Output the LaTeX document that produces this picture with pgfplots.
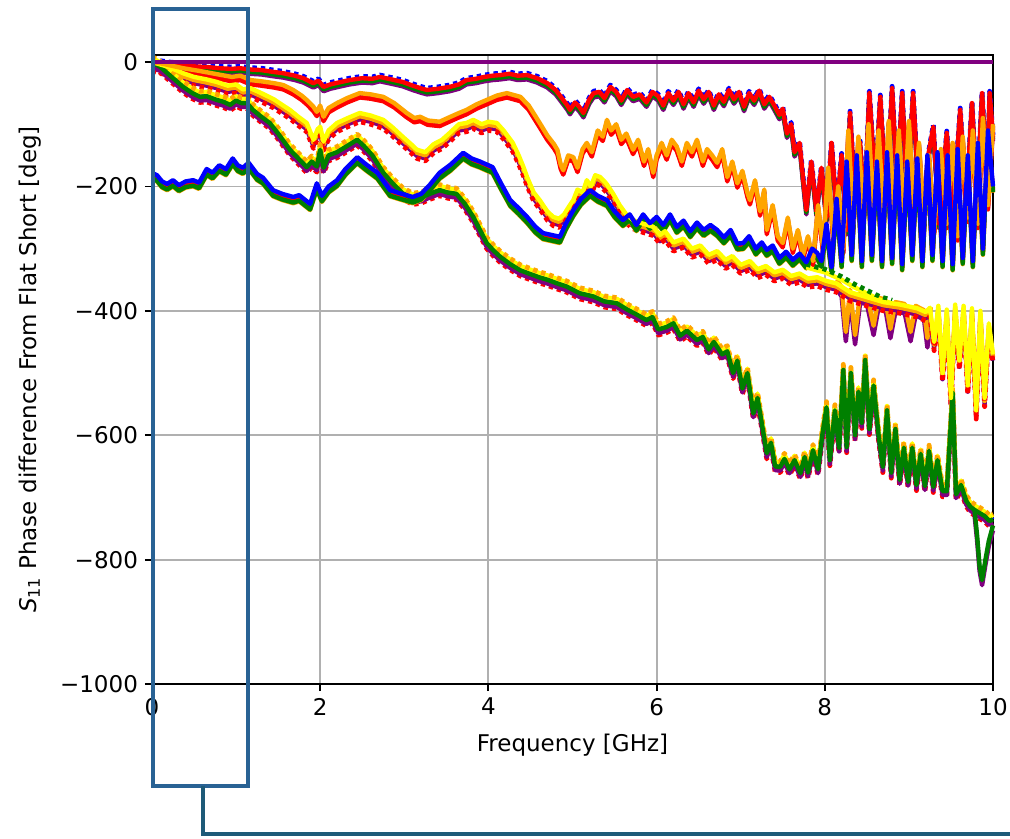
\documentclass[border=0pt]{standalone}
\usepackage{fontspec}
\setmainfont{DejaVu Sans}
\usepackage{pgfplots}
\usepackage{pgfplotstable}
\pgfplotsset{compat=1.18}
\definecolor{cR}{RGB}{255,0,0}
\definecolor{cB}{RGB}{0,0,255}
\definecolor{cP}{RGB}{128,0,128}
\definecolor{cO}{RGB}{255,165,0}
\definecolor{cY}{RGB}{255,255,0}
\definecolor{cG}{RGB}{0,128,0}
\definecolor{gridgray}{RGB}{176,176,176}
\definecolor{boxblue}{RGB}{41,98,148}
\definecolor{linkblue}{RGB}{30,90,120}

\pgfplotstableread{
x y
0 0
10 0
}\bundleA

\pgfplotstableread{
x y
0 0
0.1 -1
0.2 -3
0.37 -5
0.5 -7
0.65 -8
0.8 -10
0.95 -11
1.05 -10
1.17 -12
1.3 -13
1.45 -16
1.56 -18
1.7 -22
1.8 -26
1.92 -34
1.98 -30
2.04 -40
2.12 -36
2.25 -32
2.35 -29
2.5 -26
2.62 -27
2.71 -24
2.85 -28
2.98 -32
3.1 -38
3.19 -42
3.27 -45
3.4 -43
3.54 -40
3.65 -36
3.74 -29
3.85 -27
3.95 -24
4.05 -22
4.14 -21
4.25 -19
4.35 -22
4.46 -21
4.58 -26
4.70 -34
4.80 -45
4.89 -61
4.94 -70
4.97 -77
5.03 -65
5.08 -72
5.13 -82
5.2 -60
5.25 -50
5.32 -48
5.38 -58
5.45 -40
5.52 -48
5.58 -62
5.65 -45
5.72 -56
5.8 -52
5.88 -65
5.95 -48
6.02 -55
6.08 -70
6.14 -50
6.2 -62
6.26 -48
6.32 -68
6.38 -50
6.44 -65
6.5 -46
6.56 -60
6.62 -48
6.68 -70
6.74 -52
6.8 -64
6.86 -45
6.92 -60
6.98 -48
7.04 -72
7.1 -50
7.16 -62
7.22 -46
7.28 -68
7.34 -56
7.4 -70
7.46 -85
7.5 -75
7.55 -115
7.6 -100
7.64 -145
7.7 -130
7.74 -185
7.78 -238
7.84 -160
7.90 -240
7.96 -170
8.02 -250
8.08 -130
8.14 -240
8.20 -150
8.26 -270
8.30 -82
8.36 -220
8.42 -130
8.47 -240
8.53 -50
8.60 -200
8.66 -56
8.73 -230
8.80 -42
8.86 -200
8.92 -50
8.98 -220
9.05 -50
9.11 -200
9.17 -250
9.23 -150
9.29 -104
9.36 -260
9.45 -114
9.52 -250
9.61 -77
9.68 -230
9.75 -66
9.81 -220
9.87 -50
9.93 -200
9.96 -50
10 -120
}\bundleB

\pgfplotstableread{
x y
0 0
0.1 -2
0.2 -5
0.37 -10
0.55 -14
0.75 -19
0.95 -24
1.05 -22
1.17 -29
1.3 -31
1.45 -34
1.56 -37
1.68 -45
1.78 -54
1.84 -61
1.92 -72
1.96 -80
2.0 -70
2.04 -88
2.1 -74
2.2 -66
2.32 -58
2.47 -50
2.6 -52
2.75 -56
2.88 -66
3.03 -82
3.12 -90
3.19 -88
3.28 -94
3.42 -96
3.55 -88
3.65 -82
3.74 -77
3.86 -68
3.98 -61
4.1 -54
4.22 -50
4.3 -53
4.38 -56
4.48 -70
4.55 -85
4.61 -98
4.7 -118
4.78 -132
4.82 -141
4.86 -165
4.89 -174
4.95 -150
5.01 -153
5.06 -170
5.12 -140
5.17 -130
5.23 -145
5.3 -110
5.36 -120
5.41 -93
5.46 -110
5.52 -100
5.58 -125
5.64 -115
5.72 -141
5.78 -125
5.85 -160
5.9 -140
5.96 -178
6.0 -150
6.06 -130
6.12 -150
6.18 -125
6.24 -136
6.3 -160
6.36 -130
6.42 -145
6.48 -125
6.55 -160
6.6 -140
6.66 -150
6.72 -162
6.78 -140
6.84 -185
6.9 -160
6.96 -195
7.02 -175
7.08 -210
7.11 -222
7.17 -190
7.23 -240
7.28 -205
7.31 -270
7.38 -230
7.44 -280
7.5 -291
7.56 -250
7.62 -300
7.68 -270
7.74 -310
7.8 -280
7.86 -320
7.92 -230
7.98 -300
8.04 -170
8.1 -280
8.16 -200
8.22 -300
8.28 -110
8.34 -260
8.40 -120
8.46 -250
8.52 -100
8.58 -240
8.64 -110
8.70 -250
8.76 -95
8.82 -240
8.88 -110
8.94 -250
9.0 -95
9.06 -230
9.12 -130
9.18 -260
9.24 -150
9.30 -270
9.38 -140
9.45 -260
9.52 -130
9.58 -280
9.64 -120
9.70 -250
9.76 -110
9.82 -260
9.88 -90
9.94 -230
10 -100
}\bundleC

\pgfplotstableread{
x y
0 0
0.1 -4
0.2 -8
0.37 -18
0.5 -24
0.65 -28
0.77 -32
0.9 -38
1.0 -36
1.08 -44
1.17 -42
1.3 -50
1.45 -60
1.56 -70
1.64 -77
1.74 -88
1.84 -98
1.92 -125
1.97 -108
2.0 -104
2.04 -128
2.1 -110
2.2 -98
2.33 -90
2.47 -82
2.6 -86
2.75 -93
2.86 -105
2.98 -120
3.08 -132
3.15 -141
3.25 -145
3.35 -132
3.45 -125
3.54 -114
3.65 -100
3.74 -98
3.82 -93
3.92 -100
4.0 -96
4.1 -98
4.18 -110
4.29 -130
4.36 -150
4.42 -170
4.46 -185
4.54 -210
4.61 -222
4.7 -240
4.77 -249
4.84 -252
4.9 -245
4.96 -232
5.01 -222
5.06 -205
5.12 -210
5.17 -190
5.22 -200
5.27 -182
5.33 -185
5.4 -195
5.48 -211
5.56 -230
5.64 -245
5.72 -254
5.84 -260
5.96 -265
6.04 -278
6.1 -272
6.2 -290
6.32 -284
6.42 -300
6.52 -295
6.62 -310
6.72 -304
6.82 -318
6.9 -312
7.0 -326
7.11 -320
7.2 -333
7.3 -328
7.4 -338
7.5 -334
7.6 -344
7.7 -340
7.8 -348
7.91 -346
8.02 -352
8.14 -356
8.3 -370
8.5 -378
8.7 -386
8.9 -390
9.1 -396
9.2 -402
9.25 -395
9.30 -450
9.35 -392
9.40 -500
9.45 -398
9.50 -540
9.55 -390
9.60 -480
9.65 -392
9.70 -520
9.75 -396
9.80 -560
9.85 -400
9.90 -540
9.95 -420
10 -470
}\bundleD

\pgfplotstableread{
x y
8.14 -356
8.20 -368
8.25 -440
8.30 -372
8.36 -445
8.42 -378
8.50 -380
8.58 -430
8.64 -385
8.72 -388
8.78 -435
8.84 -392
8.95 -395
9.02 -440
9.08 -398
9.18 -405
9.22 -450
9.26 -400
}\bundleDdip

\pgfplotstableread{
x y
0 0
0.1 -8
0.2 -20
0.37 -40
0.48 -50
0.57 -56
0.65 -55
0.77 -61
0.85 -64
0.93 -69
1.0 -62
1.06 -66
1.13 -66
1.2 -77
1.3 -88
1.4 -98
1.5 -115
1.64 -141
1.74 -155
1.84 -169
1.9 -160
1.96 -168
2.0 -141
2.04 -170
2.1 -150
2.2 -145
2.32 -135
2.44 -125
2.52 -135
2.62 -150
2.75 -178
2.86 -195
2.98 -211
3.1 -220
3.2 -218
3.3 -212
3.42 -206
3.52 -210
3.62 -212
3.72 -228
3.82 -249
3.9 -270
3.98 -291
4.06 -303
4.14 -313
4.26 -325
4.38 -335
4.5 -341
4.6 -346
4.7 -350
4.82 -356
4.93 -361
5.09 -372
5.25 -377
5.38 -385
5.53 -388
5.65 -398
5.75 -405
5.88 -415
5.95 -410
6.02 -430
6.12 -426
6.2 -420
6.28 -440
6.36 -432
6.48 -447
6.55 -442
6.62 -462
6.68 -450
6.72 -458
6.78 -470
6.84 -465
6.91 -500
6.96 -480
7.02 -525
7.08 -500
7.15 -565
7.2 -540
7.25 -580
7.31 -629
7.36 -612
7.41 -650
7.47 -651
7.52 -638
7.58 -655
7.64 -640
7.71 -661
7.76 -635
7.80 -660
7.86 -624
7.92 -655
7.97 -600
8.02 -555
8.06 -640
8.12 -560
8.17 -620
8.22 -495
8.26 -619
8.31 -500
8.36 -600
8.40 -530
8.44 -580
8.48 -479
8.53 -590
8.58 -520
8.64 -600
8.69 -651
8.74 -560
8.79 -660
8.84 -590
8.89 -672
8.94 -620
8.99 -675
9.04 -620
9.09 -680
9.14 -630
9.19 -682
9.24 -625
9.29 -683
9.34 -640
9.40 -690
9.45 -690
9.52 -532
9.56 -695
9.62 -680
9.68 -705
9.73 -715
9.78 -720
9.84 -725
9.90 -730
9.96 -738
10 -735
}\bundleE

\pgfplotstableread{
x y
9.78 -720
9.81 -760
9.84 -810
9.87 -833
9.91 -800
9.95 -770
10 -745
}\bundleEdrop

\pgfplotstableread{
x y
0 -178
0.06 -182
0.12 -192
0.18 -196
0.25 -190
0.32 -198
0.4 -192
0.49 -190
0.56 -194
0.65 -172
0.72 -178
0.8 -166
0.88 -172
0.96 -155
1.02 -166
1.08 -170
1.15 -162
1.25 -180
1.32 -186
1.44 -206
1.55 -212
1.68 -217
1.75 -214
1.88 -228
1.96 -195
2.02 -215
2.1 -200
2.2 -190
2.3 -172
2.44 -153
2.55 -165
2.68 -178
2.83 -206
2.95 -211
3.1 -217
3.2 -212
3.3 -198
3.42 -178
3.55 -165
3.7 -146
3.8 -155
3.9 -160
4.05 -169
4.15 -195
4.26 -222
4.36 -235
4.46 -249
4.56 -265
4.65 -275
4.75 -278
4.85 -281
4.92 -260
5.01 -238
5.1 -220
5.21 -206
5.3 -215
5.41 -222
5.5 -240
5.6 -254
5.68 -245
5.76 -262
5.84 -245
5.92 -259
6.0 -249
6.08 -262
6.16 -245
6.24 -265
6.32 -255
6.4 -272
6.48 -258
6.56 -270
6.64 -262
6.72 -270
6.8 -282
6.88 -270
6.96 -292
7.03 -291
7.1 -280
7.18 -300
7.25 -290
7.31 -302
7.38 -295
7.46 -315
7.54 -305
7.62 -318
7.7 -308
7.78 -322
7.85 -300
7.91 -307
7.96 -320
8.02 -260
8.08 -330
8.14 -220
8.20 -320
8.26 -160
8.32 -310
8.38 -150
8.44 -320
8.50 -145
8.56 -310
8.62 -160
8.68 -320
8.74 -145
8.80 -315
8.86 -150
8.92 -325
8.98 -160
9.04 -310
9.10 -155
9.16 -320
9.22 -150
9.28 -310
9.34 -145
9.40 -320
9.46 -150
9.52 -325
9.58 -140
9.64 -315
9.70 -150
9.76 -320
9.82 -130
9.88 -300
9.94 -110
10 -200
}\bundleF

\pgfplotstableread{
x y
7.78 -330
7.91 -335
8.0 -338
8.1 -344
8.2 -350
8.35 -362
8.5 -372
8.65 -382
8.8 -388
}\bundleFsmooth

\begin{document}
\begin{tikzpicture}
\begin{axis}[
  scale only axis,
  width=420.5pt, height=314.5pt,
  xmin=0, xmax=10, ymin=-1000, ymax=11.25,
  xtick={0,2,4,6,8,10},
  xticklabels={0,2,4,6,8,10},
  ytick={-1000,-800,-600,-400,-200,0},
  yticklabels={−1000,−800,−600,−400,−200,0},
  xtick pos=lower, ytick pos=left,
  tick align=outside,
  major tick length=3.5pt,
  tick style={black, line width=0.9pt},
  grid=major,
  grid style={gridgray, line width=0.9pt},
  axis line style={black, line width=0.9pt},
  tick label style={font=\fontsize{11.5}{13.8}\selectfont},
  xlabel={Frequency [GHz]},
  ylabel={\textit{S}\textsubscript{11} Phase difference From Flat Short [deg]},
  every axis x label/.style={at={(axis description cs:0.5,-0.097)}, anchor=center, font=\fontsize{11.5}{13.8}\selectfont},
  every axis y label/.style={at={(axis description cs:-0.145,0.5)}, anchor=center, rotate=90, font=\fontsize{11.5}{13.8}\selectfont},
  clip=false,
  every axis plot/.append style={line width=2.2pt, no markers, line join=round},
]
% ---- under layers
\addplot[cP] table[x=x, y expr=\thisrow{y}-7] {\bundleB};
\addplot[cG] table[x=x, y expr=\thisrow{y}-4] {\bundleB};
\addplot[cB, dotted, line width=2.4pt] table[x=x, y expr=\thisrow{y}+3] {\bundleB};

\addplot[cP] table[x=x, y expr=\thisrow{y}-3] {\bundleC};
\addplot[cR] table[x=x, y expr=\thisrow{y}-7] {\bundleC};

\addplot[cP] table[x=x, y expr=\thisrow{y}-9] {\bundleDdip};
\addplot[cO] table[x=x, y expr=\thisrow{y}+6] {\bundleDdip};
\addplot[cP] table[x=x, y expr=\thisrow{y}-10] {\bundleD};
\addplot[cO] table[x=x, y expr=\thisrow{y}-5] {\bundleD};
\addplot[cR, dotted, line width=2.4pt] table[x=x, y expr=\thisrow{y}-14] {\bundleD};

\addplot[cR, dotted, line width=2.4pt] table[x=x, y expr=\thisrow{y}-9] {\bundleE};
\addplot[cP] table[x=x, y expr=\thisrow{y}-6] {\bundleE};
\addplot[cB] table[x=x, y expr=\thisrow{y}+4] {\bundleE};
\addplot[cY] table[x=x, y expr=\thisrow{y}+7] {\bundleE};
\addplot[cO, dotted, line width=2.4pt] table[x=x, y expr=\thisrow{y}+9] {\bundleE};
\addplot[cP] table[x=x, y expr=\thisrow{y}-8] {\bundleEdrop};

\addplot[cO] table[x=x, y expr=\thisrow{y}-10] {\bundleF};
\addplot[cR] table[x=x, y expr=\thisrow{y}-5] {\bundleF};
\addplot[cG] table[x=x, y expr=\thisrow{y}-9] {\bundleF};
\addplot[cY] table[x=x, y=y] {\bundleFsmooth};
\addplot[cG, dotted, line width=2.4pt] table[x=x, y expr=\thisrow{y}+5] {\bundleFsmooth};

% ---- top layers
\addplot[cG] table[x=x, y=y] {\bundleE};
\addplot[cG] table[x=x, y=y] {\bundleEdrop};
\addplot[cY] table[x=x, y=y] {\bundleD};
\addplot[cR] table[x=x, y=y] {\bundleB};
\addplot[cO] table[x=x, y=y] {\bundleC};
\addplot[cB] table[x=x, y=y] {\bundleF};
\addplot[cP] table[x=x, y=y] {\bundleA};

% ---- annotation box and connector
\draw[boxblue, line width=1.6pt] (axis cs:0.012,85.2) rectangle (axis cs:1.141,-1164);
\draw[linkblue, line width=1.6pt] (axis cs:0.606,-1164) -- (axis cs:0.606,-1241) -- (axis cs:10.25,-1241);
\coordinate (bbsw) at (axis cs:-1.807,-1247.6);
\coordinate (bbne) at (axis cs:10.202,99.7);
\end{axis}
\pgfresetboundingbox
\useasboundingbox (bbsw) rectangle (bbne);
\end{tikzpicture}
\end{document}
